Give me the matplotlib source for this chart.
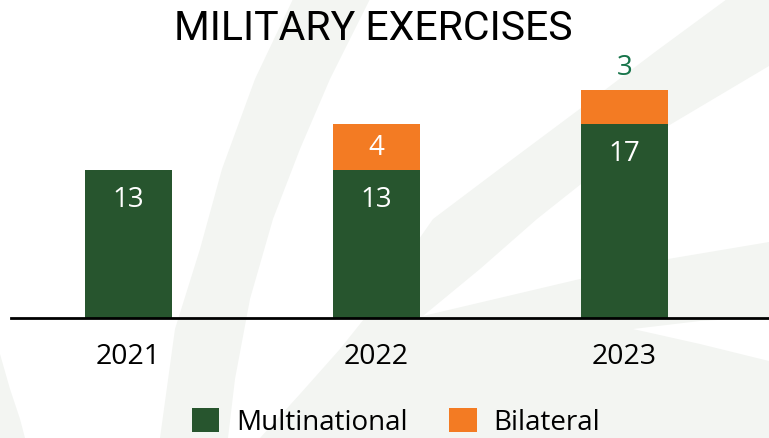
import numpy as np
import matplotlib.pyplot as plt
from matplotlib.patches import Polygon

plt.rcParams['font.family'] = ['Open Sans', 'DejaVu Sans']

# data
years = ['2021', '2022', '2023']
multinational = [13, 13, 17]
bilateral = [0, 4, 3]

GREEN = '#27552e'
ORANGE = '#f37b23'
LABEL_GREEN = '#17744a'
BG = '#f3f5f2'

W, H = 769, 439
fig = plt.figure(figsize=(W / 100, H / 100), dpi=100)
fig.patch.set_facecolor('white')


def to_fig(pts):
    # pixel coords (from top-left) -> figure fraction
    return [(px / W, 1 - py / H) for px, py in pts]


# faint decorative swooshes in the background
band_left = [(293, 0), (370, 0), (330, 80), (300, 150), (273, 220), (250, 300),
             (235, 380), (228, 439), (160, 439), (175, 330), (200, 250),
             (222, 170), (255, 80)]
band_right = [(727, 0), (769, 0), (769, 67), (668, 127), (600, 170), (537, 220),
              (480, 270), (423, 317), (580, 280), (668, 260), (769, 243),
              (769, 439), (260, 439), (300, 395), (340, 350), (380, 300),
              (405, 260), (433, 220), (510, 162), (581, 109), (655, 53)]
corner = [(0, 355), (10, 390), (20, 420), (25, 439), (0, 439)]
white_wedge = [(633, 330), (700, 322), (769, 318), (769, 362), (700, 345)]

for pts in [band_left, band_right, corner]:
    fig.patches.append(Polygon(to_fig(pts), closed=True, transform=fig.transFigure,
                               facecolor=BG, edgecolor='none', zorder=-2))
fig.patches.append(Polygon(to_fig(white_wedge), closed=True, transform=fig.transFigure,
                           facecolor='white', edgecolor='none', zorder=-1))

ax = fig.add_axes([11 / W, 1 - 319 / H, 758 / W, 319 / H])
ax.patch.set_alpha(0)

x = np.arange(len(years))
width = 0.351
b1 = ax.bar(x, multinational, width=width, color=GREEN, label='Multinational')
b2 = ax.bar(x, bilateral, bottom=multinational, width=width, color=ORANGE, label='Bilateral')

ax.set_xlim(-0.474, 2.583)
ax.set_ylim(0, 28)
for s in ['top', 'left', 'right']:
    ax.spines[s].set_visible(False)
ax.spines['bottom'].set_linewidth(2)
ax.spines['bottom'].set_color('black')
ax.set_yticks([])
ax.set_xticks(x, years)
ax.tick_params(axis='x', length=0, pad=17, labelsize=20.5, colors='black')

# value labels
for i in range(len(years)):
    m = multinational[i]
    b = bilateral[i]
    ax.annotate(str(m), (x[i], m), xytext=(0, -21), textcoords='offset points',
                ha='center', va='center', color='white', fontsize=20)
    if b > 3:
        ax.text(x[i], m + b / 2, str(b), ha='center', va='center', color='white', fontsize=20)
    elif b > 0:
        ax.annotate(str(b), (x[i], m + b), xytext=(0, 17), textcoords='offset points',
                    ha='center', va='center', color=LABEL_GREEN, fontsize=20)

fig.text(373 / W, 1 - 40 / H, 'MILITARY EXERCISES', ha='center', va='baseline',
         fontsize=29.5, family='Roboto', color='black')

fig.legend(handles=[b1, b2], loc='center', bbox_to_anchor=(396 / W, 1 - 423 / H),
           ncol=2, frameon=False, fontsize=20, handlelength=1.0, handleheight=1.0,
           handletextpad=0.6, columnspacing=1.5, borderpad=0, borderaxespad=0)

fig.savefig('out.png', dpi=100)
